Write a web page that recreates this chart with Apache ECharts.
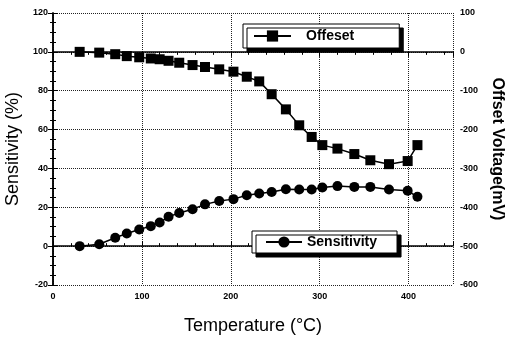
<!DOCTYPE html>
<html>
<head>
<meta charset="utf-8">
<script src="https://cdn.jsdelivr.net/npm/echarts@6/dist/echarts.min.js"></script>
<style>
  html, body { margin: 0; padding: 0; background: #fff; }
  #chart { width: 505px; height: 337px; }
</style>
</head>
<body>
<div id="chart"></div>
<script>
// temperature (°C) of each measurement
const temps = [30, 52, 70, 83, 97, 110, 120, 130, 142, 157, 171, 187, 203, 218, 232, 246, 262, 277, 291, 303, 320, 339, 357, 378, 399, 410]
// offset voltage (mV), right axis
const offset = [0, -2, -6, -11, -14, -17, -19, -23, -28, -34, -39, -45, -51, -64, -76, -109, -148, -189, -219, -240, -249, -263, -279, -289, -281, -240]
// sensitivity (%), left axis
const sensitivity = [0, 1, 4.3, 6.5, 8.6, 10.3, 12.2, 15.1, 17.1, 19.0, 21.5, 23.2, 24.2, 26.2, 27.1, 27.9, 29.3, 29.2, 29.2, 30.2, 30.9, 30.5, 30.5, 29.2, 28.5, 25.4]

const font = 'Liberation Sans, Arial, sans-serif'

function pairs(xs, ys) {
  return xs.map((x, i) => [x, ys[i]])
}

const myChart = echarts.init(document.getElementById('chart'))

const tickStyle = { color: '#000', width: 1 }
const axisLine = { show: true, lineStyle: { color: '#000', width: 1.5 } }
const dotted = { show: true, lineStyle: { color: '#222', type: 'dotted', width: 1 } }
const legendBox = {
  backgroundColor: '#fff',
  borderColor: '#000', borderWidth: 1,
  shadowColor: '#000', shadowBlur: 0, shadowOffsetX: 4, shadowOffsetY: 4,
}

let option = {
  backgroundColor: '#fff',
  animation: false,
  grid: { left: 53, right: 52, top: 13, bottom: 52, outerBoundsMode: 'none' },
  legend: [
    Object.assign({
      data: ['Offeset'],
      left: 243, top: 24,
      padding: [5, 45, 5, 10],
      itemWidth: 37, itemHeight: 14,
      textStyle: { fontFamily: font, fontSize: 14, fontWeight: 'bold', color: '#000', padding: [0, 0, 0, 10] },
    }, legendBox),
    Object.assign({
      data: ['Sensitivity'],
      left: 252, top: 231,
      padding: [4, 20, 4, 13],
      itemWidth: 36, itemHeight: 14,
      textStyle: { fontFamily: font, fontSize: 14, fontWeight: 'bold', color: '#000' },
    }, legendBox),
  ],
  xAxis: [
    {
      type: 'value', min: 0, max: 450, interval: 100,
      name: 'Temperature (°C)', nameLocation: 'middle', nameGap: 32,
      nameTextStyle: { fontFamily: font, fontSize: 18, color: '#000' },
      axisLine: axisLine,
      axisTick: { inside: true, length: 5, lineStyle: tickStyle },
      minorTick: { show: true, splitNumber: 5, length: 3, lineStyle: tickStyle },
      axisLabel: {
        fontFamily: font, fontSize: 9, fontWeight: 'bold', color: '#000', margin: 7,
        formatter: v => (v % 100 === 0 && v <= 400 ? v : ''),
      },
      splitLine: dotted,
    },
    {
      type: 'value', position: 'top', min: 0, max: 450, interval: 100,
      axisLine: axisLine,
      axisTick: { inside: true, length: 5, lineStyle: tickStyle },
      minorTick: { show: true, splitNumber: 5, length: 3, lineStyle: tickStyle },
      axisLabel: { show: false },
      splitLine: { show: false },
    },
  ],
  yAxis: [
    {
      type: 'value', min: -20, max: 120, interval: 20,
      name: 'Sensitivity (%)', nameLocation: 'middle', nameGap: 25,
      nameTextStyle: { fontFamily: font, fontSize: 18, color: '#000' },
      axisLine: axisLine,
      axisTick: { inside: true, length: 5, lineStyle: tickStyle },
      minorTick: { show: true, splitNumber: 4, length: 3, lineStyle: tickStyle },
      axisLabel: { fontFamily: font, fontSize: 9, fontWeight: 'bold', color: '#000', margin: 5 },
      splitLine: dotted,
    },
    {
      type: 'value', position: 'right', min: -600, max: 100, interval: 100,
      name: 'Offset Voltage(mV)', nameLocation: 'middle', nameGap: 35, nameRotate: -90,
      nameTextStyle: { fontFamily: font, fontSize: 16, fontWeight: 'bold', color: '#000' },
      axisLine: axisLine,
      axisTick: { inside: true, length: 5, lineStyle: tickStyle },
      minorTick: { show: true, splitNumber: 4, length: 3, lineStyle: tickStyle },
      axisLabel: { fontFamily: font, fontSize: 9, fontWeight: 'bold', color: '#000', margin: 7 },
      splitLine: { show: false },
    },
  ],
  series: [
    {
      name: 'Offeset',
      type: 'line',
      xAxisIndex: 0, yAxisIndex: 1,
      data: pairs(temps, offset),
      symbol: 'rect', symbolSize: 10,
      itemStyle: { color: '#000' },
      lineStyle: { color: '#000', width: 1.5 },
    },
    {
      name: 'Sensitivity',
      type: 'line',
      xAxisIndex: 0, yAxisIndex: 0,
      data: pairs(temps, sensitivity),
      symbol: 'circle', symbolSize: 10,
      itemStyle: { color: '#000' },
      lineStyle: { color: '#000', width: 1.5 },
    },
  ],
}
myChart.setOption(option)

window.addEventListener('resize', function () {
  myChart.resize()
})
</script>
</body>
</html>
